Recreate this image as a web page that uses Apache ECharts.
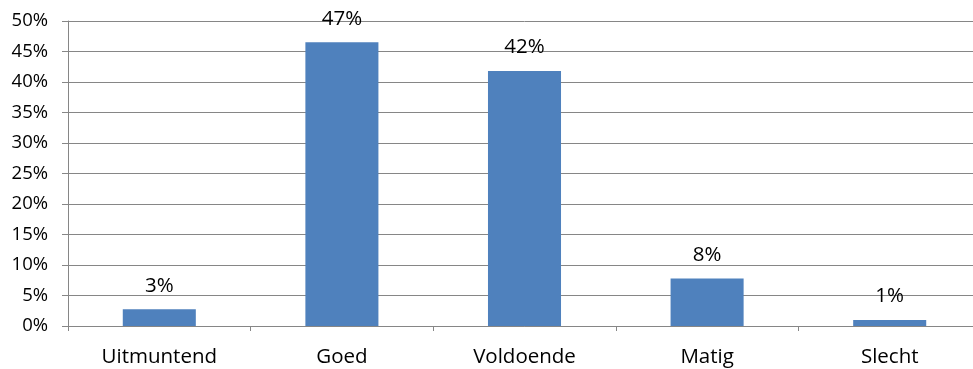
<!DOCTYPE html>
<html><head><meta charset="utf-8">
<script src="https://cdn.jsdelivr.net/npm/echarts@6/dist/echarts.min.js"></script>
<style>html,body{margin:0;padding:0;background:#fff;overflow:hidden;width:973px;height:369px}#c{width:981px;height:369px}</style>
</head><body><div id="c"></div>
<script>
const categories = ['Uitmuntend', 'Goed', 'Voldoende', 'Matig', 'Slecht'];
const values = [2.75, 46.5, 41.8, 7.8, 1.0];
const yTicks = [0, 5, 10, 15, 20, 25, 30, 35, 40, 45, 50];

const chart = echarts.init(document.getElementById('c'), null, {renderer: 'canvas'});
const font = '"Open Sans", "Liberation Sans", sans-serif';
chart.setOption({
  animation: false,
  grid: {left: 68, right: 0, top: 21, bottom: 43, containLabel: false},
  xAxis: {
    type: 'category', data: categories,
    axisLine: {lineStyle: {color: '#868686', width: 1}},
    axisTick: {show: true, length: 5, lineStyle: {color: '#868686'}},
    axisLabel: {color: '#000', fontFamily: font, fontSize: 20.5, margin: 21}
  },
  yAxis: {
    type: 'value', min: yTicks[0], max: yTicks[yTicks.length - 1], interval: 5,
    axisLine: {show: true, lineStyle: {color: '#868686'}},
    axisTick: {show: true, length: 6, lineStyle: {color: '#868686'}},
    splitLine: {lineStyle: {color: '#868686', width: 1}},
    axisLabel: {color: '#000', fontFamily: font, fontSize: 18.5, margin: 20, formatter: v => v + '%'}
  },
  series: [{
    type: 'bar', data: values, barWidth: '40%',
    itemStyle: {color: '#4F81BD'},
    label: {show: true, position: 'top', distance: 13, color: '#000', fontFamily: font, fontSize: 20.5,
      formatter: p => Math.round(p.value) + '%'}
  }]
});
</script></body></html>
